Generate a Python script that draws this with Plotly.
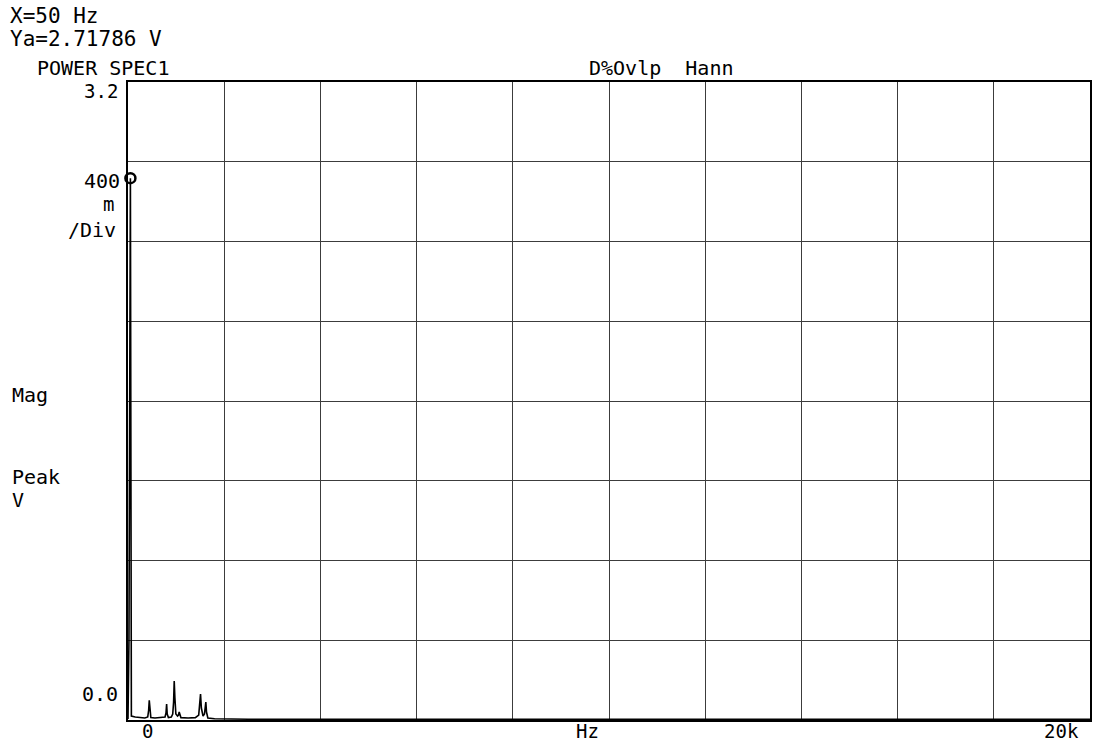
import plotly.graph_objects as go

# ---- data ----
freq_hz = [0, 20, 50, 70, 150, 250, 350, 410, 430, 442, 455, 475, 560, 700, 770,
           790, 803, 815, 840, 900, 930, 948, 961, 975, 995, 1030, 1050, 1064, 1078,
           1100, 1250, 1400, 1470, 1492, 1508, 1525, 1560, 1590, 1605, 1618, 1632,
           1660, 1800, 2500, 4000, 6000, 8000, 10000, 12000, 14000, 16000, 18000, 20000]
mag_v = [0.005, 0.40, 2.71786, 0.020, 0.015, 0.012, 0.010, 0.015, 0.050, 0.099, 0.040,
         0.012, 0.010, 0.012, 0.015, 0.035, 0.080, 0.030, 0.012, 0.015, 0.030, 0.090,
         0.195, 0.110, 0.030, 0.020, 0.025, 0.040, 0.022, 0.012, 0.010, 0.012, 0.025,
         0.070, 0.130, 0.060, 0.020, 0.030, 0.060, 0.090, 0.040, 0.010, 0.006, 0.004,
         0.004, 0.004, 0.004, 0.004, 0.004, 0.004, 0.004, 0.004, 0.004]

marker_x = [50]
marker_y = [2.71786]

x_range = [0, 20000]
y_range = [0, 3.2]
x_div = 2000
y_div = 0.4

header_lines = ["X=50 Hz", "Ya=2.71786 V"]
title_left = "POWER SPEC1"
title_right = "D%Ovlp  Hann"
y_top_label = "3.2"
y_bottom_label = "0.0"
scale_labels = ["400", "m", "/Div"]
unit_labels = ["Mag", "Peak", "V"]
x_labels = ["0", "Hz", "20k"]

# ---- layout geometry (pixels) ----
W, H = 1097, 745
L, R, T, B = 128, 1092, 82, 720


def px(x):
    return (x - L) / (R - L)


def py(y):
    return (B - y) / (B - T)


FONT = "DejaVu Sans Mono"

fig = go.Figure()
fig.add_trace(go.Scatter(x=freq_hz, y=mag_v, mode="lines",
                         line=dict(color="black", width=1.6), hoverinfo="skip",
                         showlegend=False))
fig.add_trace(go.Scatter(x=marker_x, y=marker_y, mode="markers",
                         marker=dict(symbol="circle-open", size=10, color="black",
                                     line=dict(width=2.5, color="black")),
                         showlegend=False, cliponaxis=False))

ann = []


def add(text, x, y, xanchor, size=20, yanchor="middle"):
    ann.append(dict(text=text, x=px(x), y=py(y), xref="paper", yref="paper",
                    xanchor=xanchor, yanchor=yanchor, showarrow=False,
                    font=dict(family=FONT, size=size, color="black")))


add(header_lines[0], 8, 16, "left", 21)
add(header_lines[1], 8, 39, "left", 21)
add(title_left, 35, 68, "left", 20)
add(title_right, 588, 68, "left", 20)
add(y_top_label, 120, 91, "right", 19)
add(y_bottom_label, 120, 694, "right", 20)
add(scale_labels[0], 122, 181, "right", 20)
add(scale_labels[1], 116, 204, "right", 19)
add(scale_labels[2], 118, 230, "right", 20)
add(unit_labels[0], 10, 395, "left", 20)
add(unit_labels[1], 10, 477, "left", 20)
add(unit_labels[2], 10, 500, "left", 20)
add(x_labels[0], 148, 731, "center", 19)
add(x_labels[1], 588, 731, "center", 19)
add(x_labels[2], 1083, 731, "right", 19)

axis_common = dict(showline=True, linecolor="black", linewidth=1.6, mirror=True,
                   showgrid=True, gridcolor="#3c3c3c", gridwidth=1,
                   zeroline=False, showticklabels=False, ticks="")

fig.update_layout(
    width=W, height=H,
    margin=dict(l=L, r=W - R, t=T, b=H - B),
    paper_bgcolor="white", plot_bgcolor="white",
    xaxis=dict(range=x_range, dtick=x_div, tick0=0, **axis_common),
    yaxis=dict(range=y_range, dtick=y_div, tick0=0, **axis_common),
    annotations=ann,
    showlegend=False,
)

fig.write_html("out.html")
